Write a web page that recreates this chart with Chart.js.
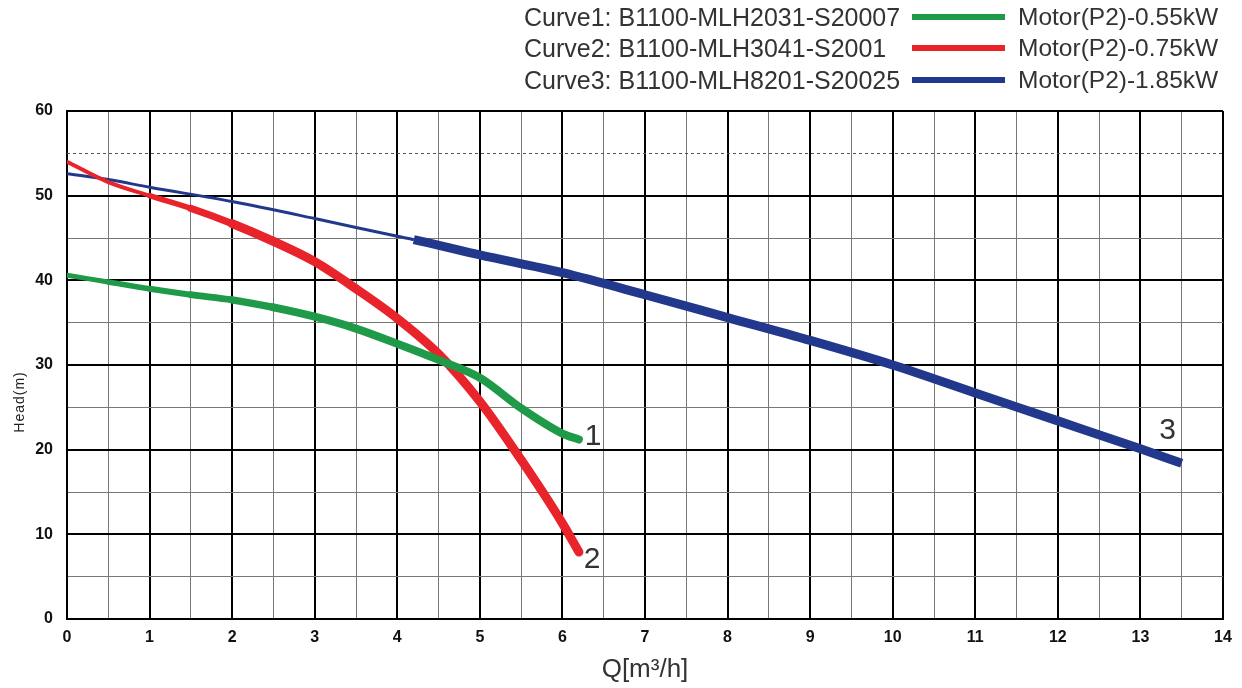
<!DOCTYPE html>
<html>
<head>
<meta charset="utf-8">
<script src="https://cdn.jsdelivr.net/npm/chart.js@4/dist/chart.umd.min.js"></script>
<style>
  html, body { margin: 0; padding: 0; background: #fff; }
  #wrap { position: relative; width: 1242px; height: 688px; }
  #legend { position: absolute; left: 0; top: 0; width: 1242px; height: 100px; font-family: "Liberation Sans", Arial, sans-serif; color: #333; }
  .row { position: absolute; left: 0; height: 30px; width: 1242px; }
  .lt { position: absolute; left: 524px; top: 0; line-height: 30px; white-space: nowrap; font-size: 25px; }
  .sw { position: absolute; left: 912px; top: 12px; width: 93px; height: 6px; }
  .rt { position: absolute; left: 1018px; top: 0; line-height: 30px; white-space: nowrap; font-size: 24.5px; }
</style>
</head>
<body>
<div id="wrap">
  <canvas id="c" width="1242" height="688"></canvas>
  <div id="legend"></div>
</div>
<script>
// ---- data ----
const seriesNames = ['Curve1: B1100-MLH2031-S20007', 'Curve2: B1100-MLH3041-S2001', 'Curve3: B1100-MLH8201-S20025'];
const motorNames = ['Motor(P2)-0.55kW', 'Motor(P2)-0.75kW', 'Motor(P2)-1.85kW'];
const curveLabels = ['1', '2', '3'];

const q1 = [0, 0.5, 1, 1.5, 2, 2.5, 3, 3.5, 4, 4.5, 5, 5.5, 6, 6.2];
const h1 = [40.6, 39.8, 39.0, 38.3, 37.7, 36.8, 35.7, 34.3, 32.5, 30.6, 28.5, 24.9, 21.9, 21.2];

const q2 = [0, 0.5, 1, 1.5, 2, 2.5, 3, 3.5, 4, 4.5, 5, 5.5, 6, 6.2];
const h2 = [54.0, 51.6, 50.0, 48.5, 46.7, 44.6, 42.2, 39.0, 35.5, 31.3, 25.7, 18.8, 11.3, 7.9];

const q3 = [0, 0.5, 1, 2, 3, 4, 4.2, 5, 6, 7, 8, 9, 10, 11, 12, 13, 13.5];
const h3 = [52.6, 51.9, 51.0, 49.3, 47.3, 45.2, 44.8, 43.0, 40.9, 38.3, 35.6, 32.9, 30.0, 26.7, 23.4, 20.1, 18.4];
const q3ThickFrom = 4.2;

const labelQ = [6.37, 6.36, 13.33];
const labelH = [21.5, 7.0, 22.2];

const xTickLabels = [0, 1, 2, 3, 4, 5, 6, 7, 8, 9, 10, 11, 12, 13, 14];
const yTickLabels = [0, 10, 20, 30, 40, 50, 60];
const dashedHead = 55;

// ---- styles ----
const colors = ['#1f9a48', '#e8232a', '#22388c'];
const FONT = '"Liberation Sans", Arial, sans-serif';

// legend (HTML text)
const legend = document.getElementById('legend');
const rowTops = [2, 33, 65];
seriesNames.forEach((n, i) => {
  const r = document.createElement('div');
  r.className = 'row';
  r.style.top = rowTops[i] + 'px';
  r.innerHTML = '<span class="lt"></span><span class="sw"></span><span class="rt"></span>';
  r.querySelector('.lt').textContent = n;
  r.querySelector('.sw').style.background = colors[i];
  r.querySelector('.rt').textContent = motorNames[i];
  legend.appendChild(r);
});

const pts = (xs, ys) => xs.map((x, i) => ({ x: x, y: ys[i] }));

const extras = {
  id: 'extras',
  beforeDatasetsDraw(chart) {
    const { ctx, chartArea, scales } = chart;
    const y = Math.round(scales.y.getPixelForValue(dashedHead)) + 0.5;
    ctx.save();
    ctx.strokeStyle = '#555';
    ctx.lineWidth = 1;
    ctx.setLineDash([3, 3]);
    ctx.beginPath();
    ctx.moveTo(chartArea.left, y);
    ctx.lineTo(chartArea.right, y);
    ctx.stroke();
    ctx.restore();
  },
  afterDraw(chart) {
    const { ctx, chartArea, scales } = chart;
    ctx.save();
    ctx.fillStyle = '#333';
    ctx.font = '30px ' + FONT;
    ctx.textAlign = 'center';
    ctx.textBaseline = 'middle';
    curveLabels.forEach((t, i) => {
      ctx.fillText(t, scales.x.getPixelForValue(labelQ[i]), scales.y.getPixelForValue(labelH[i]));
    });
    // y-axis title
    ctx.translate(chartArea.left - 47, (chartArea.top + chartArea.bottom) / 2 + 37);
    ctx.rotate(-Math.PI / 2);
    ctx.font = '14px ' + FONT;
    if ('letterSpacing' in ctx) ctx.letterSpacing = '1px';
    ctx.fillStyle = '#222';
    ctx.fillText('Head(m)', 0, 0);
    ctx.restore();
  }
};

const widthRamp = (x0, w0, x1, w1) => (ctx) => {
  const x = ctx.p0.parsed.x;
  if (x <= x0) return w0;
  if (x >= x1) return w1;
  return w0 + (w1 - w0) * (x - x0) / (x1 - x0);
};

const common = { pointRadius: 0, cubicInterpolationMode: 'monotone', borderCapStyle: 'round', borderJoinStyle: 'round', fill: false, clip: 0 };

new Chart(document.getElementById('c'), {
  type: 'line',
  data: {
    datasets: [
      Object.assign({
        label: seriesNames[0], data: pts(q1, h1), borderColor: colors[0], borderWidth: 8,
        segment: { borderWidth: widthRamp(0, 5, 2.5, 8) }
      }, common),
      Object.assign({
        label: seriesNames[1], data: pts(q2, h2), borderColor: colors[1], borderWidth: 9,
        segment: { borderWidth: widthRamp(0.5, 4, 2, 9) }
      }, common),
      Object.assign({
        label: seriesNames[2], data: pts(q3, h3), borderColor: colors[2], borderWidth: 9,
        segment: { borderWidth: (ctx) => ctx.p0.parsed.x >= q3ThickFrom ? 9 : 3 }
      }, common, { borderCapStyle: 'butt' })
    ]
  },
  options: {
    responsive: false,
    animation: false,
    layout: { padding: { top: 111, right: 19, left: 0, bottom: 0 } },
    plugins: { legend: { display: false }, tooltip: { enabled: false } },
    scales: {
      x: {
        type: 'linear', min: 0, max: 14,
        afterFit: (s) => { s.height = 69; },
        ticks: {
          stepSize: 0.5, autoSkip: false, padding: 9,
          color: '#111', font: { family: FONT, size: 16, weight: 'bold' },
          callback: (v) => xTickLabels.includes(v) ? String(v) : ''
        },
        grid: {
          drawTicks: false,
          color: (c) => Number.isInteger(c.tick.value) ? '#000' : '#777',
          lineWidth: (c) => Number.isInteger(c.tick.value) ? 2 : 1
        },
        border: { display: true, color: '#000', width: 2 },
        title: { display: true, text: 'Q[m³/h]', color: '#333', font: { family: FONT, size: 26 }, padding: { top: 0, bottom: 3 } }
      },
      y: {
        type: 'linear', min: 0, max: 60,
        afterFit: (s) => { s.width = 67; },
        ticks: {
          stepSize: 5, autoSkip: false, padding: 14,
          color: '#111', font: { family: FONT, size: 16, weight: 'bold' },
          callback: (v) => yTickLabels.includes(v) ? String(v) : ''
        },
        grid: {
          drawTicks: false,
          color: (c) => c.tick.value === dashedHead ? 'rgba(0,0,0,0)' : (c.tick.value % 10 === 0 ? '#000' : '#777'),
          lineWidth: (c) => c.tick.value % 10 === 0 ? 2 : 1
        },
        border: { display: true, color: '#000', width: 2 }
      }
    }
  },
  plugins: [extras]
});
</script>
</body>
</html>
